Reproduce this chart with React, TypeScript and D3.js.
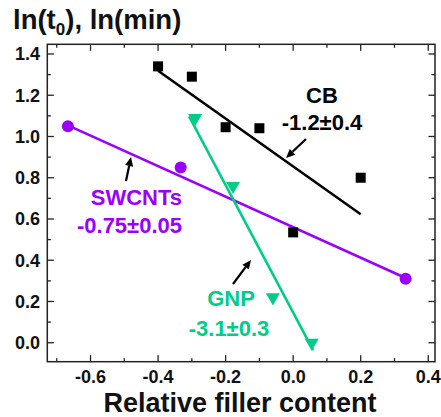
import React from "react";
import * as d3 from "d3";

// ---- data ----
const cbX = [-0.4, -0.3, -0.2, -0.1, 0.0, 0.2];
const cbY = [1.34, 1.29, 1.045, 1.04, 0.535, 0.8];
const swX = [-0.667, -0.333, 0.333];
const swY = [1.05, 0.85, 0.31];
const gnpX = [-0.29, -0.178, -0.06, 0.055];
const gnpY = [1.09, 0.76, 0.22, 0.0];

// fitted lines: [x0, x1], slope, intercept
const cbFitRange = [-0.4, 0.2];
const cbFit = { slope: -1.16, intercept: 0.855 };
const swFitRange = [-0.667, 0.333];
const swFit = { slope: -0.74, intercept: 0.56 };
const gnpFitRange = [-0.308, 0.059];
const gnpFit = { slope: -3.09, intercept: 0.146 };

const xTicks = [-0.6, -0.4, -0.2, 0.0, 0.2, 0.4];
const xTickLabels = ["-0.6", "-0.4", "-0.2", "0.0", "0.2", "0.4"];
const xMinor = [-0.7, -0.5, -0.3, -0.1, 0.1, 0.3];
const yTicks = [0.0, 0.2, 0.4, 0.6, 0.8, 1.0, 1.2, 1.4];
const yTickLabels = ["0.0", "0.2", "0.4", "0.6", "0.8", "1.0", "1.2", "1.4"];
const yMinor = [0.1, 0.3, 0.5, 0.7, 0.9, 1.1, 1.3];

const seriesNames = ["CB", "SWCNTs", "GNP"];
const slopeLabels = ["-1.2±0.4", "-0.75±0.05", "-3.1±0.3"];

const W = 441;
const H = 417;
const L = 47.3, R = 435, T = 44.3, B = 361.7;
const FONT = "'Liberation Sans', Arial, sans-serif";
const PURPLE = "#9900FF";
const GREEN = "#00CC88";

const x = d3.scaleLinear().domain([-0.728, 0.42]).range([L, R]);
const y = d3.scaleLinear().domain([-0.092, 1.447]).range([B, T]);

function fitPath(range: number[], f: { slope: number; intercept: number }) {
  const pts: [number, number][] = range.map((v) => [v, f.intercept + f.slope * v]);
  return d3.line<[number, number]>().x((d) => x(d[0])).y((d) => y(d[1]))(pts) || "";
}

function Arrow({ x1, y1, x2, y2 }: { x1: number; y1: number; x2: number; y2: number }) {
  const ang = Math.atan2(y2 - y1, x2 - x1);
  const len = 9, half = 4;
  const bx = x2 - len * Math.cos(ang), by = y2 - len * Math.sin(ang);
  const px = -Math.sin(ang) * half, py = Math.cos(ang) * half;
  return (
    <g>
      <line x1={x1} y1={y1} x2={bx} y2={by} stroke="#000" strokeWidth={2.2} />
      <polygon points={`${x2},${y2} ${bx + px},${by + py} ${bx - px},${by - py}`} fill="#000" />
    </g>
  );
}

export default function App() {
  const tri = d3.symbol().type(d3.symbolTriangle).size(85)() || "";
  return (
    <svg width={W} height={H} style={{ position: "absolute", left: 0, top: 0 }} fontFamily={FONT} fontWeight="bold">
      <rect x={0} y={0} width={W} height={H} fill="#fff" />
      {/* title */}
      <text x={13} y={28.5} fontSize={27.5} fill="#111">
        ln(t<tspan fontSize={17} dy={6}>0</tspan><tspan dy={-6}>), ln(min)</tspan>
      </text>

      {/* fit lines */}
      <path d={fitPath(cbFitRange, cbFit)} stroke="#000" strokeWidth={2.6} fill="none" />
      <path d={fitPath(swFitRange, swFit)} stroke={PURPLE} strokeWidth={2.6} fill="none" />
      <path d={fitPath(gnpFitRange, gnpFit)} stroke={GREEN} strokeWidth={2.6} fill="none" />

      {/* markers */}
      {cbX.map((v, i) => (
        <rect key={"cb" + i} x={x(v) - 5} y={y(cbY[i]) - 5} width={10} height={10} fill="#000" />
      ))}
      {swX.map((v, i) => (
        <circle key={"sw" + i} cx={x(v)} cy={y(swY[i])} r={6} fill={PURPLE} />
      ))}
      {gnpX.map((v, i) => (
        <path key={"g" + i} d={tri} transform={`translate(${x(v)},${y(gnpY[i])}) rotate(180)`} fill={GREEN} />
      ))}

      {/* annotations */}
      <text x={322} y={103} fontSize={22} textAnchor="middle" fill="#000">{seriesNames[0]}</text>
      <text x={322} y={130} fontSize={22} textAnchor="middle" fill="#000">{slopeLabels[0]}</text>
      <Arrow x1={306} y1={139} x2={286} y2={158} />

      <text x={182} y={205} fontSize={22} textAnchor="end" fill={PURPLE}>{seriesNames[1]}</text>
      <text x={182} y={233} fontSize={22} textAnchor="end" fill={PURPLE}>{slopeLabels[1]}</text>
      <Arrow x1={126} y1={181} x2={131} y2={157} />

      <text x={231} y={306} fontSize={22} textAnchor="middle" fill={GREEN}>{seriesNames[2]}</text>
      <text x={229} y={336} fontSize={22} textAnchor="middle" fill={GREEN}>{slopeLabels[2]}</text>
      <Arrow x1={233} y1={284} x2={251} y2={260} />

      {/* frame */}
      <rect x={L} y={T} width={R - L} height={B - T} fill="none" stroke="#222" strokeWidth={1.5} />

      {/* x ticks */}
      {xTicks.map((v, i) => (
        <g key={"xt" + i}>
          <line x1={x(v)} x2={x(v)} y1={B} y2={B - 6.5} stroke="#222" strokeWidth={1.3} />
          <line x1={x(v)} x2={x(v)} y1={T} y2={T + 6.5} stroke="#222" strokeWidth={1.3} />
          <text x={x(v)} y={383} fontSize={18} textAnchor="middle" fill="#111">{xTickLabels[i]}</text>
        </g>
      ))}
      {xMinor.map((v, i) => (
        <g key={"xm" + i}>
          <line x1={x(v)} x2={x(v)} y1={B} y2={B - 3.5} stroke="#222" strokeWidth={1.3} />
          <line x1={x(v)} x2={x(v)} y1={T} y2={T + 3.5} stroke="#222" strokeWidth={1.3} />
        </g>
      ))}
      {/* y ticks */}
      {yTicks.map((v, i) => (
        <g key={"yt" + i}>
          <line x1={L} x2={L + 6.5} y1={y(v)} y2={y(v)} stroke="#222" strokeWidth={1.3} />
          <line x1={R} x2={R - 6.5} y1={y(v)} y2={y(v)} stroke="#222" strokeWidth={1.3} />
          <text x={40} y={y(v) + 6.3} fontSize={18} textAnchor="end" fill="#111">{yTickLabels[i]}</text>
        </g>
      ))}
      {yMinor.map((v, i) => (
        <g key={"ym" + i}>
          <line x1={L} x2={L + 3.5} y1={y(v)} y2={y(v)} stroke="#222" strokeWidth={1.3} />
          <line x1={R} x2={R - 3.5} y1={y(v)} y2={y(v)} stroke="#222" strokeWidth={1.3} />
        </g>
      ))}

      {/* x label */}
      <text x={240} y={411.5} fontSize={27} textAnchor="middle" fill="#111">Relative filler content</text>
    </svg>
  );
}
